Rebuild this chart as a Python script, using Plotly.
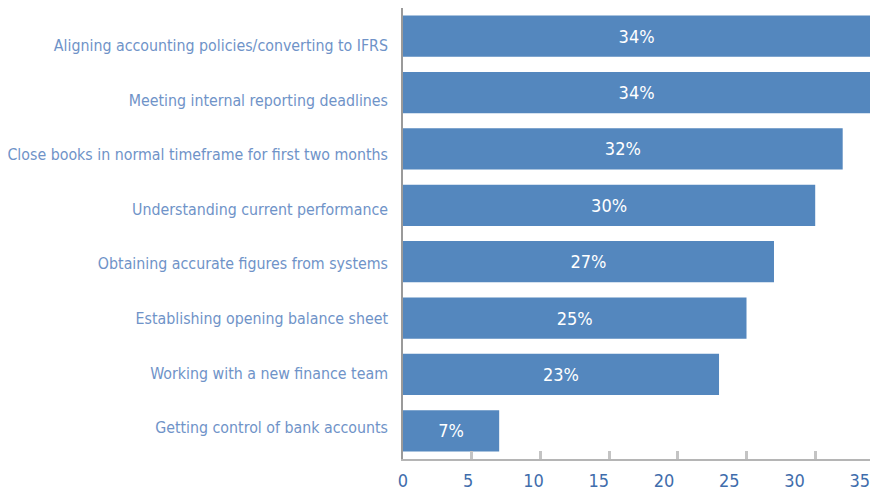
import plotly.graph_objects as go

categories = [
    "Aligning accounting policies/converting to IFRS",
    "Meeting internal reporting deadlines",
    "Close books in normal timeframe for first two months",
    "Understanding current performance",
    "Obtaining accurate figures from systems",
    "Establishing opening balance sheet",
    "Working with a new finance team",
    "Getting control of bank accounts",
]
values = [34, 34, 32, 30, 27, 25, 23, 7]
x_ticks = [0, 5, 10, 15, 20, 25, 30, 35]

FONT = "DejaVu Sans Condensed, Roboto, sans-serif"

fig = go.Figure()
fig.add_trace(go.Bar(
    x=values,
    y=categories,
    orientation="h",
    marker=dict(color="#5487be", line=dict(width=0)),
    width=0.73,
    text=[f"{v}%" for v in values],
    textposition="inside",
    insidetextanchor="middle",
    textfont=dict(color="white", size=18, family=FONT),
    hoverinfo="skip",
    showlegend=False,
))
# invisible helper trace so the label-only overlay axes are drawn
fig.add_trace(go.Scatter(
    x=[x_ticks[0]], y=[0], xaxis="x2", yaxis="y2",
    mode="markers", marker=dict(opacity=0),
    hoverinfo="skip", showlegend=False,
))

# the page body adds an 8px margin, so the figure is sized/offset to compensate
fig.update_layout(
    width=870, height=483,
    margin=dict(l=395, r=0, t=0, b=32, autoexpand=False),
    plot_bgcolor="white", paper_bgcolor="white",
    showlegend=False,
    bargap=0.27,
    yaxis=dict(
        autorange="reversed", automargin=False,
        showline=True, linecolor="#9a9a9a", linewidth=1.5,
        ticks="", showgrid=False, zeroline=False, showticklabels=False,
    ),
    xaxis=dict(
        range=[0, 34.57], automargin=False,
        tickvals=x_ticks,
        showline=True, linecolor="#b5b5b5", linewidth=1.5,
        ticks="inside", ticklen=8, tickwidth=2.5, tickcolor="#c4c4c4",
        showgrid=False, zeroline=False, showticklabels=False,
    ),
    yaxis2=dict(
        overlaying="y", anchor="x2", side="left",
        range=[7.572, -0.686], automargin=False,
        tickvals=list(range(len(categories))), ticktext=categories,
        showline=False, ticks="", showgrid=False, zeroline=False,
        ticklabelstandoff=14,
        tickfont=dict(family=FONT, size=15.8, color="#6f93c8"),
    ),
    xaxis2=dict(
        overlaying="x", anchor="y2", side="bottom",
        range=[0, 36.4], automargin=False,
        tickvals=x_ticks, ticktext=[str(t) for t in x_ticks],
        showline=False, ticks="", showgrid=False, zeroline=False,
        ticklabelstandoff=9, ticklabeloverflow="allow",
        tickfont=dict(family=FONT, size=18, color="#3f6dac"),
    ),
)

fig.write_html("out.html")
